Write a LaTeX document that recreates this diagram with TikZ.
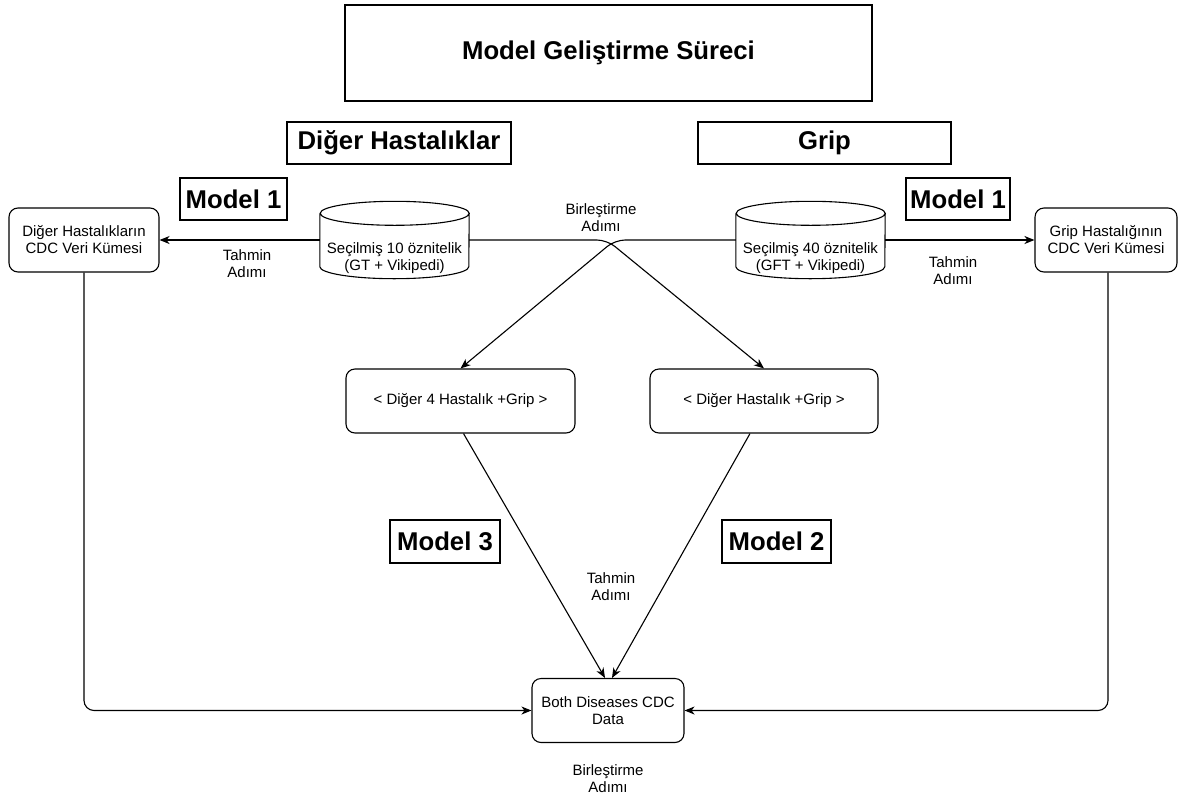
\documentclass[tikz,border=0pt]{standalone}
\usepackage{fontspec}
\setmainfont{Liberation Sans}
\usetikzlibrary{positioning, arrows.meta}

\tikzset{
    box/.style={draw, rounded corners=9pt, line width=1.1pt, align=center, inner sep=0pt,
        font=\fontsize{15}{17}\selectfont},
    head/.style={draw, line width=1.1pt, inner sep=0pt, font=\fontsize{25.7}{30}\selectfont\bfseries},
    txt/.style={align=center, inner sep=0pt, font=\fontsize{15}{17}\selectfont},
    cylbox/.style={minimum width=149pt, minimum height=77pt, inner sep=0pt},
    arr/.style={-{Stealth[length=10pt, width=8pt, inset=3pt]}, line width=1.1pt},
}

\begin{document}
\begin{tikzpicture}[x=1pt, y=-1pt]
        \useasboundingbox (0,0) rectangle (1184,801);

        \node[head, minimum width=527pt, minimum height=96pt] (title) at (608.5,53) {Model Geliştirme Süreci};
        \node[head, minimum width=224pt, minimum height=42pt] (diger) at (399,143) {Diğer Hastalıklar};
        \node[head, minimum width=253pt, minimum height=42pt] (grip) at (824.5,143) {Grip};
        \node[head, minimum width=107pt, minimum height=42pt] (modelL) at (233.5,199) {Model 1};
        \node[head, minimum width=104pt, minimum height=42pt] (modelR) at (958,199) {Model 1};
        \node[head, minimum width=110pt, minimum height=43pt] (modelC) at (445,541.5) {Model 3};
        \node[head, minimum width=109pt, minimum height=43pt] (modelB) at (776.5,541.5) {Model 2};

        \node[box, minimum width=150pt, minimum height=64pt] (cdcL) at (84,240) {Diğer Hastalıkların\\CDC Veri Kümesi};
        \node[box, minimum width=142pt, minimum height=64pt] (cdcR) at (1106,240) {Grip Hastalığının\\CDC Veri Kümesi};
        \node[box, minimum width=229pt, minimum height=64pt] (mixA) at (460.5,401) {< Diğer 4 Hastalık +Grip >};
        \node[box, minimum width=228pt, minimum height=64pt] (mixB) at (764,401) {< Diğer Hastalık +Grip >};
        \node[box, minimum width=152pt, minimum height=64pt] (both) at (608,710.5) {Both Diseases CDC\\Data};

        \node[cylbox] (cylL) at (394.5,240) {};
        \node[cylbox] (cylR) at (810.5,240) {};
        \foreach \c in {cylL, cylR} {
            \draw[line width=1.1pt] ([yshift=-12pt]\c.north west) -- ([yshift=12pt]\c.south west)
                arc[start angle=180, end angle=360, x radius=74.5pt, y radius=12pt]
                -- ([yshift=-12pt]\c.north east)
                arc[start angle=0, end angle=180, x radius=74.5pt, y radius=12pt]
                arc[start angle=180, end angle=360, x radius=74.5pt, y radius=12pt];
        }
        \node[txt] (cylLtext) at ([yshift=-18pt]cylL.center) {Seçilmiş 10 öznitelik\\(GT + Vikipedi)};
        \node[txt] (cylRtext) at ([yshift=-18pt]cylR.center) {Seçilmiş 40 öznitelik\\(GFT + Vikipedi)};

        \node[txt] (stepL) at (247,264) {Tahmin\\Adımı};
        \node[txt] (stepR) at (953,271) {Tahmin\\Adımı};
        \node[txt] (stepM) at (611,587) {Tahmin\\Adımı};
        \node[txt] (joinT) at (601,218) {Birleştirme\\Adımı};
        \node[txt] (joinB) at (608,779) {Birleştirme\\Adımı};

        \draw[arr] (cylL.west) -- (cdcL.east);
        \draw[arr] (cylR.east) -- (cdcR.west);
        \draw[arr, rounded corners=10pt] (cylL.east) -- (607,240) -- (mixB.north);
        \draw[arr, rounded corners=10pt] (cylR.west) -- (615,240) -- (mixA.north);
        \draw[arr] ([xshift=3pt]mixA.south) -- ([xshift=-3pt]both.north);
        \draw[arr] ([xshift=-14pt]mixB.south) -- ([xshift=4pt]both.north);
        \draw[arr, rounded corners=10pt] (cdcL.south) |- (both.west);
        \draw[arr, rounded corners=10pt] ([xshift=2pt]cdcR.south) |- (both.east);
    \end{tikzpicture}
\end{document}
